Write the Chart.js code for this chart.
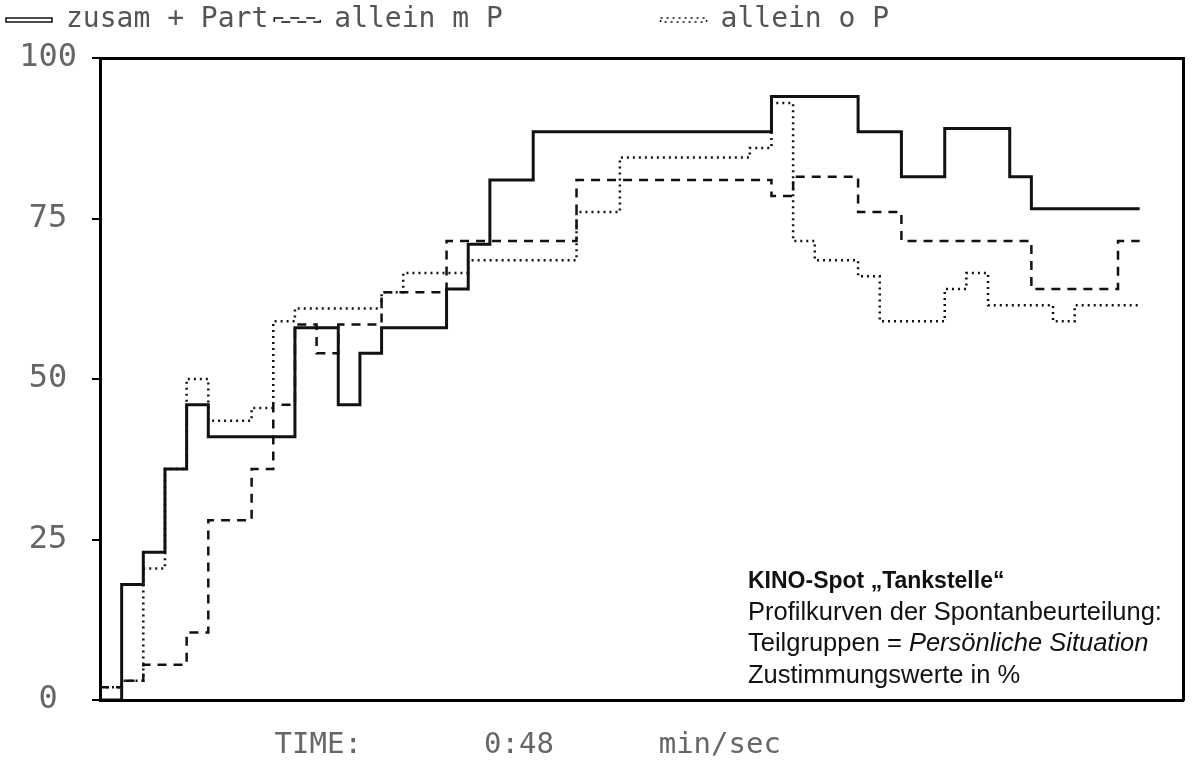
<!DOCTYPE html>
<html>
<head>
<meta charset="utf-8">
<script src="https://cdn.jsdelivr.net/npm/chart.js@4.4.1/dist/chart.umd.min.js"></script>
<style>
  html, body { margin: 0; padding: 0; background: #fff; }
</style>
</head>
<body>
<canvas id="profil" width="1193" height="763"></canvas>
<script>
// seconds of the spot, one step per second (last entry closes the final step)
var seconds = [0,1,2,3,4,5,6,7,8,9,10,11,12,13,14,15,16,17,18,19,20,21,22,23,24,
  25,26,27,28,29,30,31,32,33,34,35,36,37,38,39,40,41,42,43,44,45,46,47,48];

var zusamPart = [0,18,23,36,46,41,41,41,41,58,58,46,54,58,58,58,64,71,81,81,
  88.5,88.5,88.5,88.5,88.5,88.5,88.5,88.5,88.5,88.5,88.5,94,94,94,94,88.5,88.5,
  81.5,81.5,89,89,89,81.5,76.5,76.5,76.5,76.5,76.5,76.5];

var alleinMitP = [2,3,5.5,5.5,10.5,28,28,36,46,58.5,54,58.5,58.5,63.5,63.5,63.5,
  71.5,71.5,71.5,71.5,71.5,71.5,81,81,81,81,81,81,81,81,81,78.5,81.5,81.5,81.5,
  76,76,71.5,71.5,71.5,71.5,71.5,71.5,64,64,64,64,71.5,71.5];

var alleinOhneP = [2,3,20.5,36,50,43.5,43.5,45.5,59,61,61,61,61,63.5,66.5,66.5,
  66.5,68.5,68.5,68.5,68.5,68.5,76,76,84.5,84.5,84.5,84.5,84.5,84.5,86,93,71.5,
  68.5,68.5,66,59,59,59,64,66.5,61.5,61.5,61.5,59,61.5,61.5,61.5,61.5];

var seriesNames = ["zusam + Part", "allein m P", "allein o P"];
var yTicks = [0, 25, 50, 75, 100];
var timeLabel = "          TIME:       0:48      min/sec";

var infoTitle = "KINO-Spot \u201eTankstelle\u201c";
var infoLine2 = "Profilkurven der Spontanbeurteilung:";
var infoLine3a = "Teilgruppen = ";
var infoLine3b = "Pers\u00f6nliche Situation";
var infoLine4 = "Zustimmungswerte in %";

function toPoints(vals) {
  return seconds.map(function (t, i) { return { x: t, y: vals[i] }; });
}

var mono = '"DejaVu Sans Mono", "Liberation Mono", monospace';

var infoBox = {
  id: 'infoBox',
  afterDatasetsDraw: function (chart) {
    var ctx = chart.ctx;
    var a = chart.chartArea;
    var x = a.left + 648;
    ctx.save();
    ctx.fillStyle = '#111';
    ctx.textBaseline = 'middle';
    ctx.font = 'bold 23px "Liberation Sans", Arial, sans-serif';
    ctx.fillText(infoTitle, x, a.bottom - 118);
    ctx.font = '25.5px "Liberation Sans", Arial, sans-serif';
    ctx.fillText(infoLine2, x, a.bottom - 87);
    ctx.fillText(infoLine3a, x, a.bottom - 56);
    var w = ctx.measureText(infoLine3a).width;
    ctx.font = 'italic 25.5px "Liberation Sans", Arial, sans-serif';
    ctx.fillText(infoLine3b, x + w, a.bottom - 56);
    ctx.font = '25.5px "Liberation Sans", Arial, sans-serif';
    ctx.fillText(infoLine4, x, a.bottom - 24);
    ctx.restore();
  }
};

new Chart("profil", {
  type: "line",
  data: {
    datasets: [{
      label: seriesNames[0],
      data: toPoints(zusamPart),
      borderColor: "#111",
      backgroundColor: "#fff",
      borderWidth: 3
    }, {
      label: seriesNames[1],
      data: toPoints(alleinMitP),
      borderColor: "#111",
      backgroundColor: "#fff",
      borderWidth: 2.5,
      borderDash: [9, 7]
    }, {
      label: seriesNames[2],
      data: toPoints(alleinOhneP),
      borderColor: "#111",
      backgroundColor: "#fff",
      borderWidth: 2.5,
      borderDash: [2, 4]
    }]
  },
  options: {
    responsive: false,
    animation: false,
    layout: { padding: 0 },
    elements: { line: { stepped: true }, point: { radius: 0 } },
    plugins: {
      tooltip: { enabled: false },
      legend: {
        align: "start",
        labels: {
          font: { family: mono, size: 28 },
          color: "#555",
          boxWidth: 46,
          boxHeight: 4,
          padding: 6,
          generateLabels: function (chart) {
            var items = Chart.defaults.plugins.legend.labels.generateLabels(chart);
            items.forEach(function (it) { it.lineWidth = 1.5; it.fillStyle = "#fff"; });
            items[1].text = items[1].text + "         ";
            return items;
          }
        }
      }
    },
    scales: {
      x: {
        type: "linear",
        min: 0,
        max: 50,
        ticks: { display: false },
        grid: { drawOnChartArea: false, drawTicks: false },
        border: { color: "#000", width: 3 },
        title: {
          display: true,
          text: timeLabel,
          align: "start",
          color: "#666",
          font: { family: mono, size: 29 },
          padding: { top: 0, bottom: 0 }
        },
        afterFit: function (s) { s.height = 63; }
      },
      xTop: {
        type: "linear",
        position: "top",
        min: 0,
        max: 1,
        ticks: { display: false },
        grid: { drawOnChartArea: false, drawTicks: false },
        border: { color: "#000", width: 3 },
        afterFit: function (s) { s.height = 14; }
      },
      y: {
        min: 0,
        max: 100,
        afterBuildTicks: function (s) {
          s.ticks = yTicks.map(function (v) { return { value: v }; });
        },
        ticks: {
          color: "#666",
          font: { family: mono, size: 32 },
          crossAlign: "center",
          padding: 15
        },
        grid: { drawOnChartArea: false, drawTicks: true, tickLength: 8, color: "#000", lineWidth: 2 },
        border: { color: "#000", width: 3 },
        afterFit: function (s) { s.width = 100; }
      },
      yRight: {
        position: "right",
        min: 0,
        max: 1,
        ticks: { display: false },
        grid: { drawOnChartArea: false, drawTicks: false },
        border: { color: "#000", width: 3 },
        afterFit: function (s) { s.width = 10; }
      }
    }
  },
  plugins: [infoBox]
});
</script>
</body>
</html>
